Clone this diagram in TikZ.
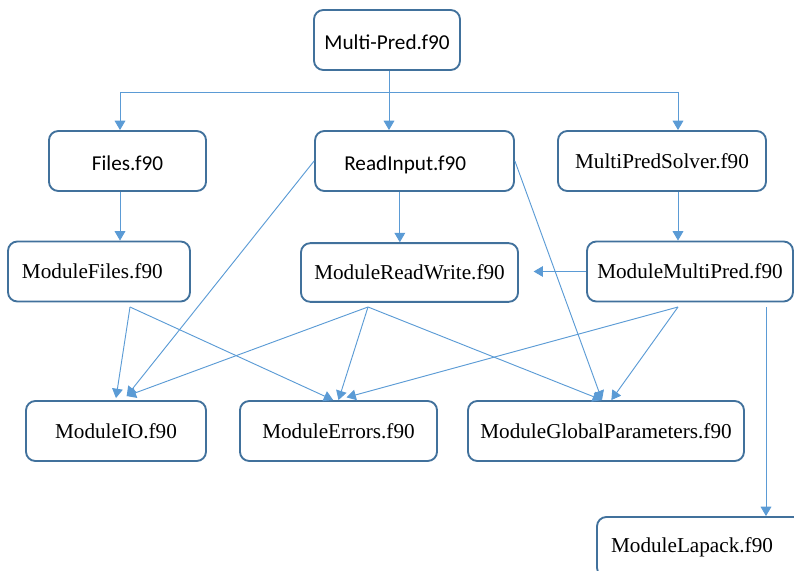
\documentclass[tikz,border=0pt]{standalone}
\usepackage{fontspec}
\setmainfont{Liberation Serif}
\newfontfamily\calibri{Carlito}
\usetikzlibrary{arrows.meta}
\definecolor{box_blue}{RGB}{65,113,156}
\definecolor{link_blue}{RGB}{91,155,213}

\begin{document}
\begin{tikzpicture}[x=0.75pt, y=-0.75pt,
    modbox/.style={draw=box_blue, line width=1.4pt, rounded corners=7pt,
      fill=white, inner sep=0pt, minimum height=45pt,
      font=\fontsize{15.9}{19}\selectfont},
    sansbox/.style={modbox, text height=13.5pt, text depth=0pt,
      font=\calibri\fontsize{15.9}{19}\selectfont},
    link/.style={draw=link_blue, line width=0.7pt},
    arr/.style={link, -{Triangle[length=7pt,width=8pt]}}]
  \useasboundingbox (0,0) rectangle (794,571);
  \clip (0,0) rectangle (794,571);

  % Main program and first level
  \node[sansbox, minimum width=109.5pt] (main) at (387,40) {Multi-Pred.f90};
  \node[sansbox, minimum width=117.8pt] (files) at (127.5,161) {Files.f90};
  \node[sansbox, minimum width=149.2pt] (readin) at (414.5,161) {\hspace*{-14pt}ReadInput.f90};
  \node[modbox, minimum width=156pt] (solver) at (662,161) {MultiPredSolver.f90};

  % Modules
  \node[modbox, minimum width=136.5pt] (mfiles) at (99,271.5) {\hspace*{-10pt}ModuleFiles.f90};
  \node[modbox, minimum width=162.8pt, minimum height=44pt] (mrw) at (409.5,272.5) {ModuleReadWrite.f90};
  \node[modbox, minimum width=154.5pt] (mmp) at (690,271.5) {ModuleMultiPred.f90};
  \node[modbox, minimum width=135pt] (mio) at (116,431) {ModuleIO.f90};
  \node[modbox, minimum width=147.8pt] (merr) at (338.5,431) {ModuleErrors.f90};
  \node[modbox, minimum width=207pt] (mgp) at (606,431) {ModuleGlobalParameters.f90};
  \node[modbox, minimum width=154.5pt] (mlap) at (700,547) {\hspace*{-12pt}ModuleLapack.f90};

  % Bus below the main program
  \coordinate (bus) at (389,92);
  \coordinate (busL) at (120,92);
  \coordinate (busR) at (678,92);
  \draw[link] (main.south -| bus) -- (bus);
  \draw[link] (busL) -- (busR);
  \draw[arr] (busL) -- (busL |- files.north);
  \draw[arr] (bus) -- (bus |- readin.north);
  \draw[arr] (busR) -- (busR |- solver.north);

  % Straight calls
  \draw[arr] (busL |- files.south) -- (busL |- mfiles.north);
  \draw[arr] ([xshift=-11pt]readin.south) -- ([xshift=-11pt]readin.south |- mrw.north);
  \draw[arr] (busR |- solver.south) -- (busR |- mmp.north);
  \draw[arr] (mmp.west) -- ([xshift=11pt]mrw.east |- mmp.west);

  % Fan points under the modules
  \coordinate (fmf) at (130,307);
  \coordinate (fmrw) at (368,307);
  \coordinate (fmmp) at (678,307);
  \coordinate (flap) at (766,307);

  \draw[arr] (fmf) -- ([yshift=1.5pt]mio.north);
  \draw[arr] (fmf) -- ([xshift=-4pt]merr.north);
  \draw[arr] (readin.west) -- ([xshift=8pt,yshift=3pt]mio.north);
  \draw[arr] (readin.east) -- ([xshift=-3pt]mgp.north);
  \draw[arr] (fmrw) -- ([xshift=8pt,yshift=3pt]mio.north);
  \draw[arr] (fmrw) -- (merr.north);
  \draw[arr] (fmrw) -- ([xshift=-3pt]mgp.north);
  \draw[arr] (fmmp) -- ([xshift=6pt,yshift=2pt]merr.north);
  \draw[arr] (fmmp) -- ([xshift=4pt]mgp.north);
  \draw[arr] (flap) -- (flap |- mlap.north);
\end{tikzpicture}
\end{document}
